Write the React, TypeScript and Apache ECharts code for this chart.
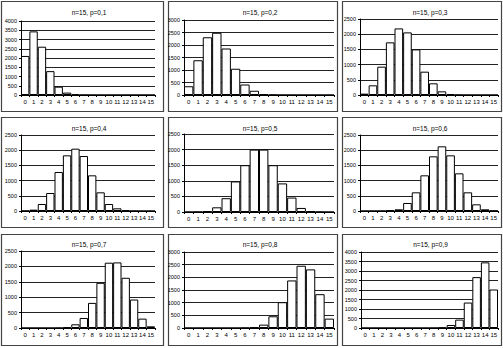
import React, { useEffect, useRef } from "react";
import * as echarts from "echarts";

const categories = ["0","1","2","3","4","5","6","7","8","9","10","11","12","13","14","15"];
const titles = ["n=15, p=0,1","n=15, p=0,2","n=15, p=0,3","n=15, p=0,4","n=15, p=0,5","n=15, p=0,6","n=15, p=0,7","n=15, p=0,8","n=15, p=0,9"];
const p01 = [2110, 3440, 2610, 1290, 450, 130, 30, 5, 0, 0, 0, 0, 0, 0, 0, 0];
const p02 = [350, 1390, 2310, 2490, 1860, 1050, 420, 170, 35, 8, 1, 0, 0, 0, 0, 0];
const p03 = [44, 318, 932, 1732, 2190, 2060, 1500, 767, 384, 120, 30, 5, 0, 0, 0, 0];
const p04 = [5, 44, 230, 592, 1283, 1831, 2050, 1809, 1173, 614, 230, 88, 22, 3, 0, 0];
const p05 = [0, 5, 32, 150, 442, 980, 1500, 2000, 2000, 1500, 916, 463, 130, 30, 5, 0];
const p06 = [0, 0, 2, 20, 55, 263, 614, 1173, 1798, 2127, 1831, 1239, 614, 219, 55, 10];
const p07 = [0, 0, 0, 0, 2, 20, 120, 326, 815, 1467, 2120, 2130, 1630, 924, 304, 54];
const p08 = [0, 0, 0, 0, 0, 0, 5, 26, 132, 463, 1018, 1877, 2458, 2313, 1335, 370];
const p09 = [0, 0, 0, 0, 0, 0, 0, 0, 3, 20, 159, 440, 1339, 2678, 3454, 2026];
const seriesData = [p01, p02, p03, p04, p05, p06, p07, p08, p09];
const yMax = [4000, 3000, 2500, 2500, 2500, 2500, 2500, 3000, 4000];

// layout
const plotBox = [
  { l: 21, r: 155, t: 21, b: 95 },
  { l: 184, r: 334, t: 20, b: 95 },
  { l: 360, r: 498, t: 19, b: 95 },
  { l: 21, r: 155, t: 135, b: 211 },
  { l: 184, r: 334, t: 134, b: 212 },
  { l: 360, r: 498, t: 135, b: 211 },
  { l: 21, r: 155, t: 251, b: 328 },
  { l: 184, r: 334, t: 252, b: 328 },
  { l: 361, r: 498, t: 252, b: 328 },
];
const frameCols = [[1, 163], [168, 337], [342, 501]];
const frameRows = [[1, 111], [117, 227], [234, 345]];
const titleY = [4, 4, 4, 120, 120, 120, 236, 236, 236];

export default function App() {
  const ref = useRef<HTMLDivElement>(null);
  useEffect(() => {
    if (!ref.current) return;
    const chart = echarts.init(ref.current, null, { renderer: "svg" });
    const font = "Liberation Sans, Arial, sans-serif";
    const grids: any[] = [];
    const xAxes: any[] = [];
    const yAxes: any[] = [];
    const series: any[] = [];
    const title: any[] = [];
    const graphic: any[] = [];
    frameRows.forEach((row) => {
      frameCols.forEach((col) => {
        graphic.push({
          type: "rect",
          shape: { x: col[0] + 0.5, y: row[0] + 0.5, width: col[1] - col[0], height: row[1] - row[0] },
          style: { fill: "#fff", stroke: "#444", lineWidth: 1.2 },
          z: -10,
        });
      });
    });
    plotBox.forEach((b, i) => {
      grids.push({ left: b.l, top: b.t, width: b.r - b.l, height: b.b - b.t, containLabel: false });
      xAxes.push({
        type: "category",
        gridIndex: i,
        data: categories,
        axisLine: { lineStyle: { color: "#000", width: 1 } },
        axisTick: { show: true, length: 2, interval: 0, lineStyle: { color: "#000" } },
        axisLabel: { interval: 0, fontSize: 6, color: "#000", fontFamily: font, margin: 4 },
      });
      yAxes.push({
        type: "value",
        gridIndex: i,
        min: 0,
        max: yMax[i],
        interval: 500,
        axisLine: { show: true, lineStyle: { color: "#000", width: 1 } },
        axisTick: { show: true, length: 2, lineStyle: { color: "#000" } },
        axisLabel: {
          fontSize: 5.5,
          color: "#000",
          fontFamily: font,
          margin: 4,
          formatter: (v: number) => String(v),
        },
        splitLine: { show: true, lineStyle: { color: "#222", width: 1 } },
      });
      series.push({
        type: "bar",
        xAxisIndex: i,
        yAxisIndex: i,
        data: seriesData[i],
        barCategoryGap: "0%",
        itemStyle: { color: "#fff", borderColor: "#000", borderWidth: 1 },
      });
      title.push({
        text: titles[i],
        left: (b.l + b.r) / 2 - 4,
        top: titleY[i],
        textAlign: "center",
        textStyle: { fontSize: 6.5, fontWeight: "normal", color: "#000", fontFamily: font },
      });
    });
    chart.setOption({
      animation: false,
      backgroundColor: "#fff",
      title,
      grid: grids,
      xAxis: xAxes,
      yAxis: yAxes,
      series,
      graphic,
    });
    return () => chart.dispose();
  }, []);
  return (
    <div
      ref={ref}
      style={{ position: "fixed", left: 0, top: 0, width: 503, height: 348, background: "#fff" }}
    />
  );
}
